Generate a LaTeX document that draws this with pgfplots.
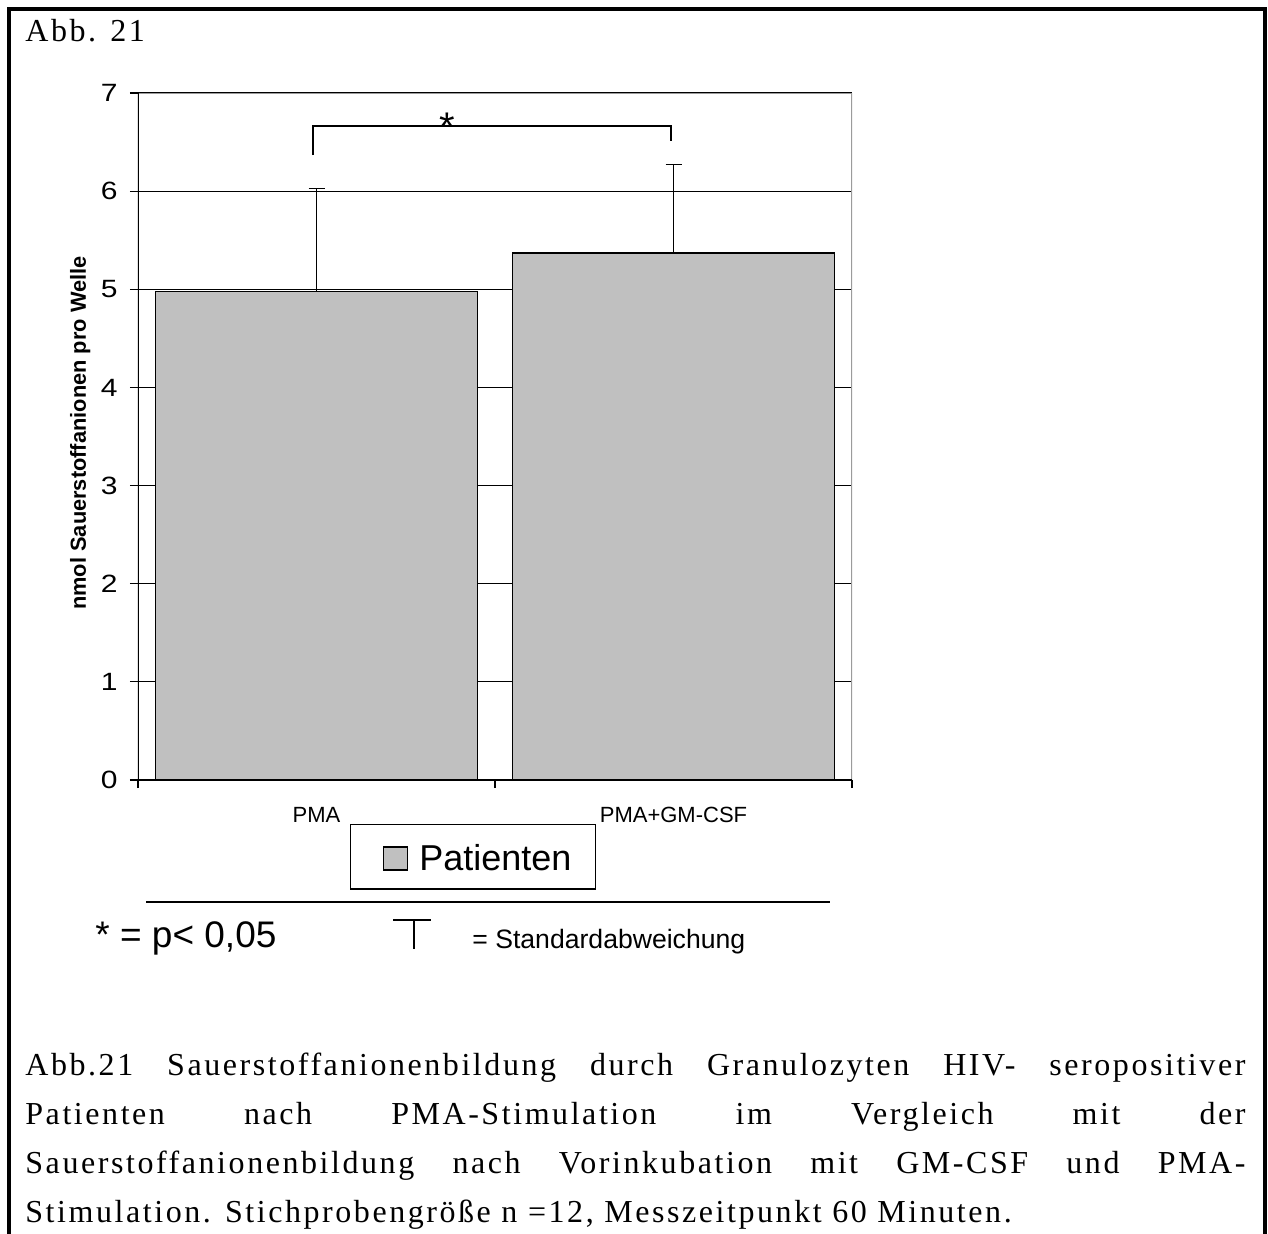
\documentclass[border=0pt]{standalone}
\usepackage{graphicx}
\usepackage{pgfplots}
\pgfplotsset{compat=1.18}
\usepackage{fontspec}
\setmainfont{Liberation Sans}
\newfontfamily\capfont{Liberation Serif}[LetterSpace=8]
\definecolor{barfill}{RGB}{192,192,192}
\definecolor{framegray}{RGB}{155,155,155}
\newcommand\fs[1]{\fontsize{#1}{#1}\selectfont}
\newcommand\capline[1]{\makebox[610pt][s]{#1}}
\begin{document}
\begin{tikzpicture}
\begin{scope}[x=0.5pt,y=-0.5pt]
\path[use as bounding box] (0,0) rectangle (1268,1234);
\draw[line width=2pt] (9,1234) -- (9,9.5) -- (1264.5,9.5) -- (1264.5,1234);
\node[anchor=base west, inner sep=0pt] at (25,42) {\capfont\fs{16}Abb. 21};
% bottom notes
\draw[line width=0.8pt] (146,902) -- (830,902);
\node[anchor=base west, inner sep=0pt] at (95,947) {\fs{18.5}* = p< 0,05};
\draw[line width=0.7pt] (393,920) -- (431,920) (414,920) -- (414,949);
\node[anchor=base west, inner sep=0pt] at (472,948) {\fs{13.3}= Standardabweichung};
% caption
\node[anchor=base west, inner sep=0pt] at (25,1075) {\capfont\fs{16}\capline{Abb.21 Sauerstoffanionenbildung durch Granulozyten HIV- seropositiver}};
\node[anchor=base west, inner sep=0pt] at (25,1124) {\capfont\fs{16}\capline{Patienten nach PMA-Stimulation im Vergleich mit der}};
\node[anchor=base west, inner sep=0pt] at (25,1173) {\capfont\fs{16}\capline{Sauerstoffanionenbildung nach Vorinkubation mit GM-CSF und PMA-}};
\node[anchor=base west, inner sep=0pt] at (25,1222) {\capfont\fs{16}Stimulation. Stichprobengröße n =12, Messzeitpunkt 60 Minuten.};
\end{scope}
\begin{axis}[
  at={(69pt,-390pt)}, anchor=south west,
  scale only axis, width=357pt, height=343.5pt,
  xmin=0, xmax=2, ymin=0, ymax=7,
  ytick={0,1,2,3,4,5,6,7},
  ymajorgrids, grid style={black, line width=0.6pt},
  xtick={0,1,2}, xticklabels={},
  extra x ticks={0.5,1.5},
  extra x tick labels={PMA,PMA+GM-CSF},
  extra x tick style={major tick length=0pt, grid=none,
    xticklabel style={font=\fs{11}, yshift=-10pt}},
  tick align=outside, major tick length=4pt,
  xtick pos=left, ytick pos=left,
  tick style={black, line width=0.6pt},
  y tick label style={font=\fs{12.5}, inner sep=0pt, xshift=-6pt},
  yticklabel={\scalebox{1.2}[1]{\pgfmathprintnumber{\tick}}},
  /pgf/number format/assume math mode=true,
  axis line style={draw=none},
  ylabel={nmol Sauerstoffanionen pro Welle},
  ylabel style={font=\bfseries\fs{10.9}, at={(axis description cs:-0.081,0.505)}, anchor=center},
  legend style={at={(axis description cs:0.469,-0.112)}, anchor=center, draw=black, line width=0.6pt,
    fill=white, inner xsep=12pt, inner ysep=7.75pt, font=\fs{18}, nodes={inner sep=0pt},
    /tikz/every odd column/.append style={column sep=5.5pt}},
  legend image code/.code={\path (-4.5pt,9pt); \draw[fill=barfill, draw=black, line width=0.6pt] (0pt,-5.5pt) rectangle (12pt,6pt);},
]
\addplot[ybar, bar width=161pt, fill=barfill, draw=black, line width=0.6pt,
  error bars/.cd, y dir=plus, y explicit,
  error bar style={black, line width=0.6pt},
  error mark options={black, line width=0.6pt, mark size=4pt, rotate=90}]
  coordinates {(0.5,4.98) +- (0,1.05) (1.5,5.37) +- (0,0.90)};
\addlegendentry{Patienten}
\draw[framegray, line width=0.8pt] (rel axis cs:0,1) -- (rel axis cs:1,1) -- (rel axis cs:1,0);
\draw[black, line width=0.8pt] (rel axis cs:0,1) -- (rel axis cs:0,0) -- (rel axis cs:1,0);
\draw[black, line width=0.7pt] (axis cs:0.49,6.368) -- (axis cs:0.49,6.664) -- (axis cs:1.493,6.664) -- (axis cs:1.493,6.511);
\node[anchor=base, inner sep=0pt, font=\fs{20}] at (axis cs:0.865,6.52) {*};
\end{axis}
\end{tikzpicture}
\end{document}
